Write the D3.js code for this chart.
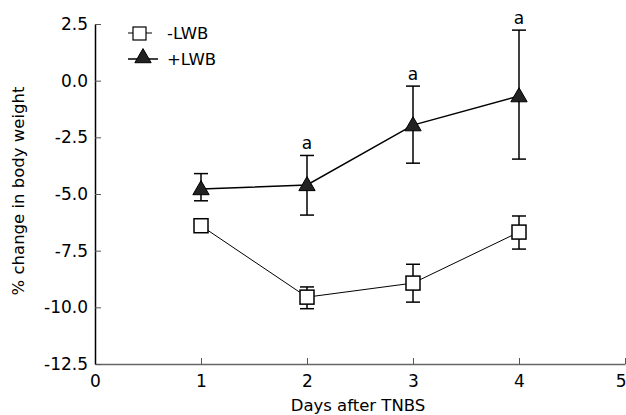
<!DOCTYPE html>
<html>
<head>
<meta charset="utf-8">
<script src="https://cdn.jsdelivr.net/npm/d3@7"></script>
<style>
  body { margin: 0; background: #fff; }
  text { font-family: "DejaVu Sans", Verdana, sans-serif; }
</style>
</head>
<body>
<div id="chart"></div>
<script>
// Data
var days = [1, 2, 3, 4];
var minusMean = [-6.4, -9.55, -8.93, -6.68];
var minusUpper = [-6.15, -9.1, -8.1, -5.97];
var minusLower = [-6.67, -10.06, -9.77, -7.43];
var plusMean = [-4.78, -4.6, -1.96, -0.68];
var plusUpper = [-4.1, -3.3, -0.24, 2.23];
var plusLower = [-5.3, -5.93, -3.64, -3.46];
var plusSig = ["", "a", "a", "a"];
var xTicks = [0, 1, 2, 3, 4, 5];
var yTicks = [-12.5, -10, -7.5, -5, -2.5, 0, 2.5];

var margin = {top: 24, right: 1, bottom: 51, left: 95};
var width = 626 - margin.left - margin.right;
var height = 415 - margin.top - margin.bottom;

var svg = d3.select("#chart").append("svg")
    .attr("width", 626)
    .attr("height", 415)
  .append("g")
    .attr("transform", "translate(" + margin.left + "," + margin.top + ")");

var x = d3.scaleLinear().domain([0, 5]).range([0, width]);
var y = d3.scaleLinear().domain([-12.5, 2.5]).range([height, 0]);

var f1 = d3.format(".1f");
function yFmt(d) { return f1(d).replace("\u2212", "-"); }

// axes (ticks point inward)
var xAxis = svg.append("g")
    .attr("transform", "translate(0," + height + ")")
    .call(d3.axisBottom(x).tickValues(xTicks).tickFormat(d3.format("d"))
        .tickSizeInner(-6).tickSizeOuter(0).tickPadding(11));
xAxis.select(".domain").attr("stroke", "#666").attr("stroke-width", 1.5);
xAxis.selectAll(".tick line").attr("stroke", "#555");
xAxis.selectAll("text").attr("font-size", 17).attr("fill", "#000");
// last label sits flush against the right edge
xAxis.selectAll(".tick text").filter(function(d) { return d === 5; })
    .attr("text-anchor", "end").attr("dx", "1");

var yAxis = svg.append("g")
    .call(d3.axisLeft(y).tickValues(yTicks).tickFormat(yFmt)
        .tickSizeInner(-6).tickSizeOuter(0).tickPadding(7));
yAxis.select(".domain").attr("stroke", "#000").attr("stroke-width", 1.5);
yAxis.selectAll(".tick line").attr("stroke", "#555");
yAxis.selectAll("text").attr("font-size", 17).attr("fill", "#000");

// axis titles
svg.append("text")
    .attr("x", width / 2 - 2)
    .attr("y", height + 47)
    .attr("text-anchor", "middle")
    .attr("font-size", 16.5)
    .text("Days after TNBS");

svg.append("text")
    .attr("transform", "translate(-71," + (191 - margin.top) + ") rotate(-90)")
    .attr("text-anchor", "middle")
    .attr("font-size", 16.5)
    .text("% change in body weight");

var line = d3.line()
    .x(function(d) { return x(d[0]); })
    .y(function(d) { return y(d[1]); });

function drawSeries(mean, upper, lower, lineW) {
    svg.append("path")
        .datum(days.map(function(d, i) { return [d, mean[i]]; }))
        .attr("fill", "none")
        .attr("stroke", "#000")
        .attr("stroke-width", lineW)
        .attr("d", line);

    var eb = svg.selectAll(null).data(days).enter().append("g");
    eb.append("line")
        .attr("x1", function(d) { return x(d); })
        .attr("x2", function(d) { return x(d); })
        .attr("y1", function(d, i) { return y(upper[i]); })
        .attr("y2", function(d, i) { return y(lower[i]); })
        .attr("stroke", "#000").attr("stroke-width", 1.5);
    eb.append("line")
        .attr("x1", function(d) { return x(d) - 7; })
        .attr("x2", function(d) { return x(d) + 7; })
        .attr("y1", function(d, i) { return y(upper[i]); })
        .attr("y2", function(d, i) { return y(upper[i]); })
        .attr("stroke", "#000").attr("stroke-width", 1.5);
    eb.append("line")
        .attr("x1", function(d) { return x(d) - 7; })
        .attr("x2", function(d) { return x(d) + 7; })
        .attr("y1", function(d, i) { return y(lower[i]); })
        .attr("y2", function(d, i) { return y(lower[i]); })
        .attr("stroke", "#000").attr("stroke-width", 1.5);
}

drawSeries(minusMean, minusUpper, minusLower, 1);
drawSeries(plusMean, plusUpper, plusLower, 1.5);

var triangle = d3.symbol().type(d3.symbolTriangle).size(115);

// -LWB squares
svg.selectAll("rect.sq").data(days).enter().append("rect")
    .attr("class", "sq")
    .attr("x", function(d) { return x(d) - 7; })
    .attr("y", function(d, i) { return y(minusMean[i]) - 7; })
    .attr("width", 14).attr("height", 14)
    .attr("fill", "#fff").attr("stroke", "#000").attr("stroke-width", 1.5);

// +LWB triangles
svg.selectAll("path.tri").data(days).enter().append("path")
    .attr("class", "tri")
    .attr("transform", function(d, i) { return "translate(" + x(d) + "," + (y(plusMean[i]) + 1) + ")"; })
    .attr("d", triangle)
    .attr("fill", "#222").attr("stroke", "#000").attr("stroke-width", 1);

// significance marks
svg.selectAll("text.sig").data(days).enter().append("text")
    .attr("class", "sig")
    .attr("x", function(d) { return x(d); })
    .attr("y", function(d, i) { return y(plusUpper[i]) - 6; })
    .attr("text-anchor", "middle")
    .attr("font-size", 17)
    .text(function(d, i) { return plusSig[i]; });

// legend
var lg = svg.append("g").attr("transform", "translate(33,9)");
lg.append("line").attr("x1", 0).attr("x2", 24).attr("y1", 0).attr("y2", 0)
    .attr("stroke", "#000").attr("stroke-width", 1);
lg.append("rect").attr("x", 5).attr("y", -6).attr("width", 13).attr("height", 13)
    .attr("fill", "#fff").attr("stroke", "#000").attr("stroke-width", 1.2);
lg.append("text").attr("x", 39).attr("y", 6).attr("font-size", 16.5).text("-LWB");

lg.append("line").attr("x1", 0).attr("x2", 30).attr("y1", 26).attr("y2", 26)
    .attr("stroke", "#000").attr("stroke-width", 1.5);
lg.append("path").attr("transform", "translate(15,25)").attr("d", triangle)
    .attr("fill", "#222").attr("stroke", "#000");
lg.append("text").attr("x", 39).attr("y", 32).attr("font-size", 16.5).text("+LWB");
</script>
</body>
</html>
